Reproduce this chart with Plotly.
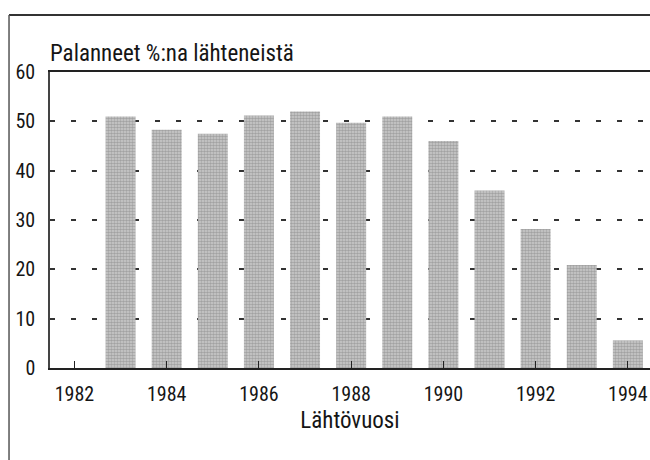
import plotly.graph_objects as go

years = [1983, 1984, 1985, 1986, 1987, 1988, 1989, 1990, 1991, 1992, 1993, 1994]
returned_pct = [51.0, 48.3, 47.5, 51.2, 52.0, 49.7, 51.0, 46.0, 36.0, 28.2, 20.9, 5.6]
y_ticks = [0, 10, 20, 30, 40, 50, 60]
x_ticks = [1982, 1984, 1986, 1988, 1990, 1992, 1994]
y_title = "Palanneet %:na lähteneistä"
x_title = "Lähtövuosi"

FONT = "Liberation Sans Narrow, Roboto Condensed, DejaVu Sans Condensed, Arial Narrow, sans-serif"
TXT = "#151515"

fig = go.Figure()
fig.add_trace(go.Bar(
    x=years,
    y=returned_pct,
    width=0.65,
    marker=dict(
        color="#c0c0c0",
        line=dict(width=0),
        pattern=dict(shape=".", fgcolor="#777777", bgcolor="#cccccc", size=3, solidity=0.55),
    ),
    hoverinfo="x+y",
))

fig.update_layout(
    width=650,
    height=460,
    margin=dict(l=50, r=0, t=72, b=92),
    paper_bgcolor="white",
    plot_bgcolor="white",
    showlegend=False,
    font=dict(family=FONT, size=20, color=TXT),
)

fig.update_xaxes(
    range=[1981.47, 1994.48],
    tickvals=x_ticks,
    ticktext=[str(v) for v in x_ticks],
    ticks="inside",
    ticklen=7,
    tickwidth=1,
    tickcolor="#222",
    ticklabelstandoff=7,
    showgrid=False,
    zeroline=False,
    showline=True,
    linecolor="#222",
    linewidth=2,
    mirror=True,
    title=dict(text=x_title, standoff=7, font=dict(family=FONT, size=23, color=TXT)),
    tickfont=dict(family=FONT, size=20, color=TXT),
)

fig.update_yaxes(
    range=[0, 60],
    tickvals=y_ticks,
    ticktext=[str(v) for v in y_ticks],
    ticks="",
    ticklabelstandoff=9,
    showgrid=True,
    gridcolor="#333",
    gridwidth=2,
    griddash="5px,16px",
    zeroline=False,
    showline=True,
    linecolor="#444",
    linewidth=1.5,
    tickfont=dict(family=FONT, size=20, color=TXT),
)

# y-axis caption above the plot area
fig.add_annotation(
    text=y_title, xref="paper", yref="paper", x=0, y=1.0,
    xanchor="left", yanchor="bottom", yshift=3, xshift=-2, showarrow=False,
    font=dict(family=FONT, size=23, color=TXT),
)

# outer frame (top and left edges of the printed box)
fig.add_shape(type="line", xref="paper", yref="paper",
              x0=-0.0683, x1=1.0, y0=1.1926, y1=1.1926,
              line=dict(color="#333", width=2))
fig.add_shape(type="line", xref="paper", yref="paper",
              x0=-0.0683, x1=-0.0683, y0=1.1926, y1=-0.32,
              line=dict(color="#555", width=1.5))

fig.write_html(
    "out.html",
    config={"displayModeBar": False},
    post_script="document.body.style.margin='0';document.body.style.padding='0';document.body.style.overflow='hidden';",
)
